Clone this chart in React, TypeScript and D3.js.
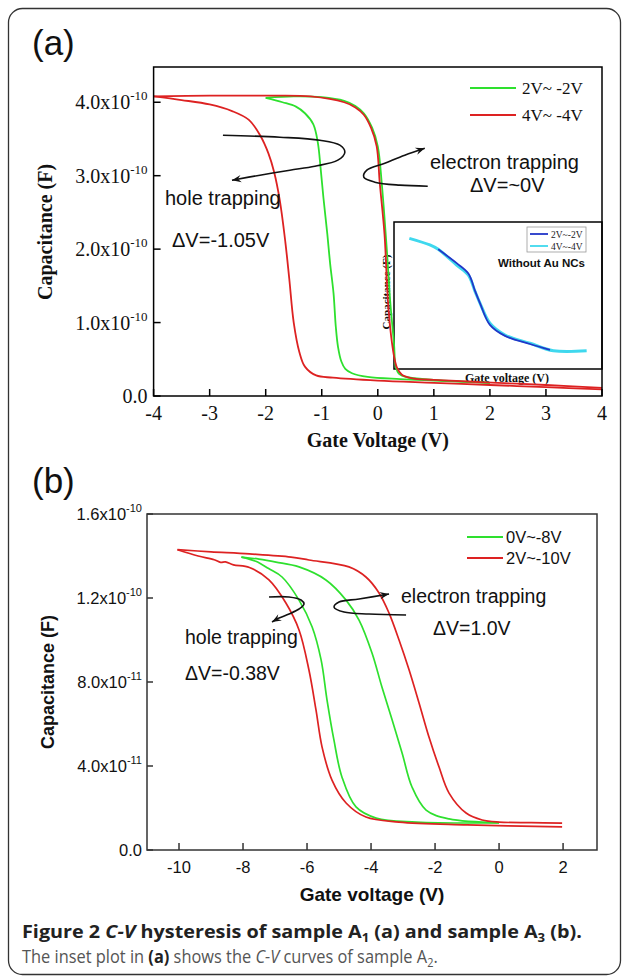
import React, { useLayoutEffect, useRef, useState } from "react";
import * as d3 from "d3";

// ---------- Panel (a) data: C (x1e-10 F) vs gate voltage (V) ----------
const A_RED_LEFT_V = [-4.0, -3.5, -3.0, -2.6, -2.3, -2.1, -1.95, -1.85, -1.75, -1.65, -1.58, -1.5, -1.4, -1.3, -1.1, -0.8, 0, 1, 2, 3, 4];
const A_RED_LEFT_C = [4.08, 4.03, 3.97, 3.88, 3.76, 3.55, 3.3, 3.05, 2.67, 2.1, 1.6, 1.0, 0.6, 0.4, 0.28, 0.25, 0.21, 0.18, 0.15, 0.12, 0.09];
const A_RED_RIGHT_V = [-4, -3, -2, -1.2, -0.6, -0.4, -0.25, -0.12, -0.02, 0.035, 0.12, 0.18, 0.24, 0.3, 0.34, 0.43, 0.62, 1.0, 1.82, 3, 4];
const A_RED_RIGHT_C = [4.08, 4.09, 4.09, 4.08, 4.0, 3.93, 3.83, 3.65, 3.4, 2.9, 2.2, 1.3, 0.8, 0.5, 0.39, 0.29, 0.24, 0.22, 0.19, 0.15, 0.11];
const A_GREEN_LEFT_V = [-2.0, -1.7, -1.46, -1.3, -1.15, -1.07, -1.02, -0.97, -0.9, -0.85, -0.79, -0.75, -0.71, -0.65, -0.58, -0.46, -0.18, 0.4, 1.0, 2.0];
const A_GREEN_LEFT_C = [4.06, 4.0, 3.94, 3.85, 3.7, 3.45, 3.1, 2.7, 2.2, 1.8, 1.4, 0.95, 0.67, 0.47, 0.37, 0.31, 0.26, 0.23, 0.21, 0.18];
const A_GREEN_RIGHT_V = [-2.0, -1.5, -1.0, -0.6, -0.4, -0.25, -0.1, 0.0, 0.07, 0.16, 0.22, 0.29, 0.32, 0.38, 0.5, 1.0, 2.0];
const A_GREEN_RIGHT_C = [4.06, 4.08, 4.07, 4.02, 3.95, 3.85, 3.65, 3.4, 2.9, 2.0, 1.3, 0.7, 0.4, 0.3, 0.26, 0.22, 0.18];

// inset (sample A2), normalized capacitance
const INSET_CYAN_V = [-3.41, -2.62, -2.3, -1.59, -1.14, -0.88, -0.69, -0.31, 0.27, 1.23, 2.13, 3.41];
const INSET_CYAN_C = [0.889, 0.844, 0.814, 0.707, 0.639, 0.526, 0.447, 0.311, 0.231, 0.175, 0.124, 0.124];
const INSET_BLUE_V = [-2.3, -1.59, -1.14, -0.88, -0.69, -0.31, 0.27, 1.23, 2.0];
const INSET_BLUE_C = [0.814, 0.72, 0.65, 0.53, 0.447, 0.3, 0.225, 0.17, 0.13];

const A_X_TICKS = [-4, -3, -2, -1, 0, 1, 2, 3, 4];
const A_Y_TICKS = [0, 1, 2, 3, 4];
const A_Y_LABELS = ["0.0", "1.0x10", "2.0x10", "3.0x10", "4.0x10"];
const A_Y_EXP = ["", "-10", "-10", "-10", "-10"];
const A_LEGEND = ["2V~ -2V", "4V~ -4V"];
const INSET_LEGEND = ["2V~-2V", "4V~-4V"];

// annotation arrows (a) in data units
const A_HOLE_ARROW_V = [-2.763, -1.747, -1.034, -0.677, -0.588, -0.713, -1.123, -1.569, -2.103, -2.602];
const A_HOLE_ARROW_C = [3.551, 3.524, 3.483, 3.415, 3.32, 3.211, 3.129, 3.075, 3.007, 2.939];
const A_ELEC_ARROW_V = [0.891, 0.392, -0.053, -0.25, -0.196, 0.125, 0.481, 0.838];
const A_ELEC_ARROW_C = [2.857, 2.871, 2.912, 2.98, 3.075, 3.17, 3.279, 3.374];

// ---------- Panel (b) data: C (x1e-11 F) ----------
const B_RED_LEFT_V = [-10.05, -9.4, -8.9, -8.7, -8.55, -8.3, -7.8, -7.19, -6.66, -6.25, -5.94, -5.72, -5.53, -5.22, -4.78, -4.16, -3.125, -1, 1.97];
const B_RED_LEFT_C = [14.3, 14.0, 13.82, 13.7, 13.72, 13.58, 13.45, 12.86, 11.76, 10.48, 8.57, 6.67, 4.9, 3.33, 2.24, 1.57, 1.33, 1.2, 1.1];
const B_RED_RIGHT_V = [-10.05, -9, -7.8, -6.5, -5.94, -4.69, -4.16, -3.75, -3.44, -3.125, -2.81, -2.5, -2.19, -1.875, -1.5625, -1.03, -0.53, 0, 1, 1.97];
const B_RED_RIGHT_C = [14.3, 14.2, 14.1, 13.95, 13.81, 13.48, 13.0, 12.24, 11.29, 10.0, 8.57, 7.0, 5.38, 3.95, 2.71, 1.76, 1.43, 1.33, 1.3, 1.28];
const B_GREEN_LEFT_V = [-8.05, -7.6, -7.2, -6.78, -6.25, -5.84, -5.56, -5.375, -5.16, -4.91, -4.47, -3.84, -2.59, 0];
const B_GREEN_LEFT_C = [13.95, 13.75, 13.4, 13.0, 11.9, 10.62, 9.05, 7.14, 5.24, 3.48, 2.05, 1.52, 1.33, 1.29];
const B_GREEN_RIGHT_V = [-8.05, -7.5, -6.97, -6.25, -5.41, -4.78, -4.375, -3.97, -3.66, -3.34, -3.03, -2.72, -2.28, -1.5625, 0];
const B_GREEN_RIGHT_C = [13.95, 13.85, 13.71, 13.48, 12.86, 11.9, 10.95, 9.38, 7.76, 6.19, 4.62, 3.0, 1.9, 1.48, 1.3];

const B_X_TICKS = [-10, -8, -6, -4, -2, 0, 2];
const B_Y_TICKS = [0, 4, 8, 12, 16];
const B_Y_LABELS = ["0.0", "4.0x10", "8.0x10", "1.2x10", "1.6x10"];
const B_Y_EXP = ["", "-11", "-11", "-10", "-10"];
const B_LEGEND = ["0V~-8V", "2V~-10V"];

const B_HOLE_ARROW_V = [-7.1875, -6.5625, -6.1875, -6.094, -6.25, -6.5625, -6.875, -7.094];
const B_HOLE_ARROW_C = [12.048, 12.048, 11.905, 11.714, 11.476, 11.238, 11.048, 10.857];
const B_ELEC_ARROW_V = [-2.906, -4.0625, -4.844, -5.156, -5.0, -4.375, -3.4375];
const B_ELEC_ARROW_C = [11.19, 11.238, 11.333, 11.571, 11.81, 11.952, 12.19];

const RED = "#dd2222";
const GREEN = "#2ee02e";
const SERIF = "'Liberation Serif', 'Times New Roman', serif";
const SANS = "'Liberation Sans', Arial, sans-serif";
const CAP = "'Open Sans', 'Noto Sans', sans-serif";

type Pt = [number, number];
const zip = (a: number[], b: number[]): Pt[] => a.map((v, i) => [v, b[i]]);

function arrowHead(pts: [number, number][], size: number) {
  const [x2, y2] = pts[pts.length - 1];
  const [x1, y1] = pts[pts.length - 2];
  const ang = Math.atan2(y2 - y1, x2 - x1);
  const p = (a: number, r: number) => `${x2 + r * Math.cos(a)},${y2 + r * Math.sin(a)}`;
  return `M${x2},${y2} L${p(ang + Math.PI - 0.38, size)} L${p(ang + Math.PI, size * 0.6)} L${p(ang + Math.PI + 0.38, size)} Z`;
}

function Arrow({ pts }: { pts: [number, number][] }) {
  const line = d3.line().curve(d3.curveCatmullRom.alpha(0.5));
  return (
    <g>
      <path d={line(pts) || ""} fill="none" stroke="#111" strokeWidth={1.6} />
      <path d={arrowHead(pts, 10)} fill="#111" />
    </g>
  );
}

export default function App() {
  const cap1 = useRef<SVGTextElement>(null);
  const cap2 = useRef<SVGTextElement>(null);
  const [s1, setS1] = useState(1);
  const [s2, setS2] = useState(1);
  useLayoutEffect(() => {
    if (cap1.current) {
      const w = cap1.current.getBBox().width;
      if (w > 0) setS1(560 / w);
    }
    if (cap2.current) {
      const w = cap2.current.getBBox().width;
      if (w > 0) setS2(416 / w);
    }
  }, []);

  // panel (a)
  const xA = d3.scaleLinear().domain([-4, 4]).range([153.6, 602]);
  const yA = d3.scaleLinear().domain([0, 4.48]).range([396, 67]);
  const lineA = d3
    .line<Pt>()
    .x((d) => xA(d[0]))
    .y((d) => yA(d[1]))
    .curve(d3.curveCatmullRom.alpha(0.5));

  // inset
  const xI = d3.scaleLinear().domain([-4, 4]).range([394, 602]);
  const yI = d3.scaleLinear().domain([0, 1]).range([369, 222]);
  const lineI = d3
    .line<Pt>()
    .x((d) => xI(d[0]))
    .y((d) => yI(d[1]))
    .curve(d3.curveCatmullRom.alpha(0.5));

  // panel (b)
  const xB = d3.scaleLinear().domain([-11, 3.06]).range([147, 597]);
  const yB = d3.scaleLinear().domain([0, 16]).range([850, 514]);
  const lineB = d3
    .line<Pt>()
    .x((d) => xB(d[0]))
    .y((d) => yB(d[1]))
    .curve(d3.curveCatmullRom.alpha(0.5));

  const aHole = zip(A_HOLE_ARROW_V, A_HOLE_ARROW_C).map(([v, c]) => [xA(v), yA(c)] as [number, number]);
  const aElec = zip(A_ELEC_ARROW_V, A_ELEC_ARROW_C).map(([v, c]) => [xA(v), yA(c)] as [number, number]);
  const bHole = zip(B_HOLE_ARROW_V, B_HOLE_ARROW_C).map(([v, c]) => [xB(v), yB(c)] as [number, number]);
  const bElec = zip(B_ELEC_ARROW_V, B_ELEC_ARROW_C).map(([v, c]) => [xB(v), yB(c)] as [number, number]);

  const [ax0, ax1] = xA.range();
  const [ay0, ay1] = yA.range();
  const [bx0, bx1] = xB.range();
  const [by0, by1] = yB.range();

  return (
    <svg
      width={627}
      height={977}
      style={{ position: "absolute", left: 0, top: 0, background: "#fff" }}
    >
      <rect x={0} y={0} width={627} height={977} fill="#fff" />
      <rect x={8.5} y={8.5} width={612} height={966} rx={14} fill="none" stroke="#333" strokeWidth={1.3} />

      {/* ================= Panel (a) ================= */}
      <text x={32} y={55} fontFamily={SANS} fontSize={35} fill="#111">(a)</text>

      {/* inset */}
      <rect x={xI.range()[0]} y={yI.range()[1]} width={xI.range()[1] - xI.range()[0]} height={yI.range()[0] - yI.range()[1]} fill="#fff" stroke="#000" strokeWidth={1.5} />
      <path d={lineI(zip(INSET_CYAN_V, INSET_CYAN_C)) || ""} fill="none" stroke="#3fd8ee" strokeWidth={3} />
      <path d={lineI(zip(INSET_BLUE_V, INSET_BLUE_C)) || ""} fill="none" stroke="#2236c8" strokeWidth={1.8} />
      <rect x={527} y={227} width={59} height={25} fill="#fff" stroke="#999" strokeWidth={0.8} />
      <line x1={530} x2={548} y1={234} y2={234} stroke="#2236c8" strokeWidth={1.8} />
      <line x1={530} x2={548} y1={246} y2={246} stroke="#3fd8ee" strokeWidth={1.8} />
      <text x={551} y={237.5} fontFamily={SERIF} fontSize={9.5} fill="#222">{INSET_LEGEND[0]}</text>
      <text x={551} y={249.5} fontFamily={SERIF} fontSize={9.5} fill="#222">{INSET_LEGEND[1]}</text>
      <text x={498} y={267} fontFamily={SANS} fontWeight="bold" fontSize={11.5} fill="#111">Without Au NCs</text>
      <text transform={`translate(390,292) rotate(-90)`} textAnchor="middle" fontFamily={SERIF} fontWeight="bold" fontSize={11} fill="#111">Capacitance (F)</text>
      <text x={507} y={382} textAnchor="middle" fontFamily={SERIF} fontWeight="bold" fontSize={12} fill="#111">Gate voltage (V)</text>

      {/* curves (a) */}
      <g fill="none" strokeWidth={1.8}>
        <path d={lineA(zip(A_GREEN_LEFT_V, A_GREEN_LEFT_C)) || ""} stroke={GREEN} />
        <path d={lineA(zip(A_GREEN_RIGHT_V, A_GREEN_RIGHT_C)) || ""} stroke={GREEN} />
        <path d={lineA(zip(A_RED_LEFT_V, A_RED_LEFT_C)) || ""} stroke={RED} />
        <path d={lineA(zip(A_RED_RIGHT_V, A_RED_RIGHT_C)) || ""} stroke={RED} />
      </g>

      {/* frame (a) */}
      <rect x={ax0} y={ay1} width={ax1 - ax0} height={ay0 - ay1} fill="none" stroke="#000" strokeWidth={1.5} />
      {A_X_TICKS.map((t) => (
        <g key={"ax" + t}>
          <line x1={xA(t)} x2={xA(t)} y1={ay0} y2={ay0 - 7} stroke="#000" strokeWidth={1.5} />
          <text x={xA(t)} y={ay0 + 24} textAnchor="middle" fontFamily={SERIF} fontSize={20} fill="#111">{t}</text>
        </g>
      ))}
      {A_Y_TICKS.map((t, i) => (
        <g key={"ay" + t}>
          <line x1={ax0} x2={ax0 + 7} y1={yA(t)} y2={yA(t)} stroke="#000" strokeWidth={1.5} />
          <text x={ax0 - 6} y={yA(t) + 7} textAnchor="end" fontFamily={SERIF} fontSize={20} fill="#111">
            {A_Y_LABELS[i]}
            {A_Y_EXP[i] && <tspan dy={-9} fontSize={13}>{A_Y_EXP[i]}</tspan>}
          </text>
        </g>
      ))}
      <text x={(ax0 + ax1) / 2} y={447} textAnchor="middle" fontFamily={SERIF} fontWeight="bold" fontSize={20} fill="#111">Gate Voltage (V)</text>
      <text transform={`translate(52,232) rotate(-90)`} textAnchor="middle" fontFamily={SERIF} fontWeight="bold" fontSize={20} fill="#111">Capacitance (F)</text>

      {/* legend (a) */}
      <line x1={470} x2={516} y1={88} y2={88} stroke={GREEN} strokeWidth={1.8} />
      <line x1={470} x2={516} y1={115} y2={115} stroke={RED} strokeWidth={1.8} />
      <text x={522} y={94} fontFamily={SERIF} fontSize={17} fill="#111">{A_LEGEND[0]}</text>
      <text x={522} y={121} fontFamily={SERIF} fontSize={17} fill="#111">{A_LEGEND[1]}</text>

      {/* annotations (a) */}
      <Arrow pts={aHole} />
      <Arrow pts={aElec} />
      <text x={165} y={205} fontFamily={SANS} fontSize={20} fill="#111">hole trapping</text>
      <text x={172} y={247} fontFamily={SANS} fontSize={20} fill="#111">ΔV=-1.05V</text>
      <text x={430} y={169} fontFamily={SANS} fontSize={20} fill="#111">electron trapping</text>
      <text x={470} y={192} fontFamily={SANS} fontSize={20} fill="#111">ΔV=~0V</text>

      {/* ================= Panel (b) ================= */}
      <text x={32} y={493} fontFamily={SANS} fontSize={35} fill="#111">(b)</text>

      <g fill="none" strokeWidth={1.7}>
        <path d={lineB(zip(B_GREEN_LEFT_V, B_GREEN_LEFT_C)) || ""} stroke={GREEN} />
        <path d={lineB(zip(B_GREEN_RIGHT_V, B_GREEN_RIGHT_C)) || ""} stroke={GREEN} />
        <path d={lineB(zip(B_RED_LEFT_V, B_RED_LEFT_C)) || ""} stroke={RED} />
        <path d={lineB(zip(B_RED_RIGHT_V, B_RED_RIGHT_C)) || ""} stroke={RED} />
      </g>

      <rect x={bx0} y={by1} width={bx1 - bx0} height={by0 - by1} fill="none" stroke="#333" strokeWidth={1.5} />
      {B_X_TICKS.map((t) => (
        <g key={"bx" + t}>
          <line x1={xB(t)} x2={xB(t)} y1={by0} y2={by0 - 7} stroke="#333" strokeWidth={1.5} />
          <text x={xB(t)} y={by0 + 23} textAnchor="middle" fontFamily={SANS} fontSize={16.5} fill="#111">{t}</text>
        </g>
      ))}
      {B_Y_TICKS.map((t, i) => (
        <g key={"by" + t}>
          <line x1={bx0} x2={bx0 + 6} y1={yB(t)} y2={yB(t)} stroke="#333" strokeWidth={1.5} />
          <text x={bx0 - 5} y={yB(t) + 6} textAnchor="end" fontFamily={SANS} fontSize={16.5} fill="#111">
            {B_Y_LABELS[i]}
            {B_Y_EXP[i] && <tspan dy={-8} fontSize={11}>{B_Y_EXP[i]}</tspan>}
          </text>
        </g>
      ))}
      <text x={(bx0 + bx1) / 2} y={901} textAnchor="middle" fontFamily={SANS} fontWeight="bold" fontSize={19} fill="#111">Gate voltage (V)</text>
      <text transform={`translate(54,${(by0 + by1) / 2}) rotate(-90)`} textAnchor="middle" fontFamily={SANS} fontWeight="bold" fontSize={18} fill="#111">Capacitance (F)</text>

      {/* legend (b) */}
      <line x1={467} x2={503} y1={537} y2={537} stroke={GREEN} strokeWidth={1.8} />
      <line x1={467} x2={503} y1={558} y2={558} stroke={RED} strokeWidth={1.8} />
      <text x={506} y={543} fontFamily={SANS} fontSize={16.5} fill="#111">{B_LEGEND[0]}</text>
      <text x={506} y={564} fontFamily={SANS} fontSize={16.5} fill="#111">{B_LEGEND[1]}</text>

      {/* annotations (b) */}
      <Arrow pts={bHole} />
      <Arrow pts={bElec} />
      <text x={185} y={644} fontFamily={SANS} fontSize={19.5} fill="#111">hole trapping</text>
      <text x={185} y={680} fontFamily={SANS} fontSize={19.5} fill="#111">ΔV=-0.38V</text>
      <text x={401} y={603} fontFamily={SANS} fontSize={19.5} fill="#111">electron trapping</text>
      <text x={433} y={635} fontFamily={SANS} fontSize={19.5} fill="#111">ΔV=1.0V</text>

      {/* ================= Caption ================= */}
      <g transform={`translate(22,938) scale(${s1},1)`}>
        <text ref={cap1} x={0} y={0} fontFamily={CAP} fontSize={18} fontWeight="bold" fill="#222">
          Figure 2 <tspan fontStyle="italic">C-V</tspan> hysteresis of sample A<tspan fontSize={12} dy={4}>1</tspan><tspan dy={-4}> (a) and sample A</tspan><tspan fontSize={12} dy={4}>3</tspan><tspan dy={-4}> (b).</tspan>
        </text>
      </g>
      <g transform={`translate(22,963) scale(${s2},1)`}>
        <text ref={cap2} x={0} y={0} fontFamily={CAP} fontSize={18} fill="#555">
          The inset plot in <tspan fontWeight="bold" fill="#222">(a)</tspan> shows the <tspan fontStyle="italic">C-V</tspan> curves of sample A<tspan fontSize={12} dy={4}>2</tspan><tspan dy={-4}>.</tspan>
        </text>
      </g>
    </svg>
  );
}
